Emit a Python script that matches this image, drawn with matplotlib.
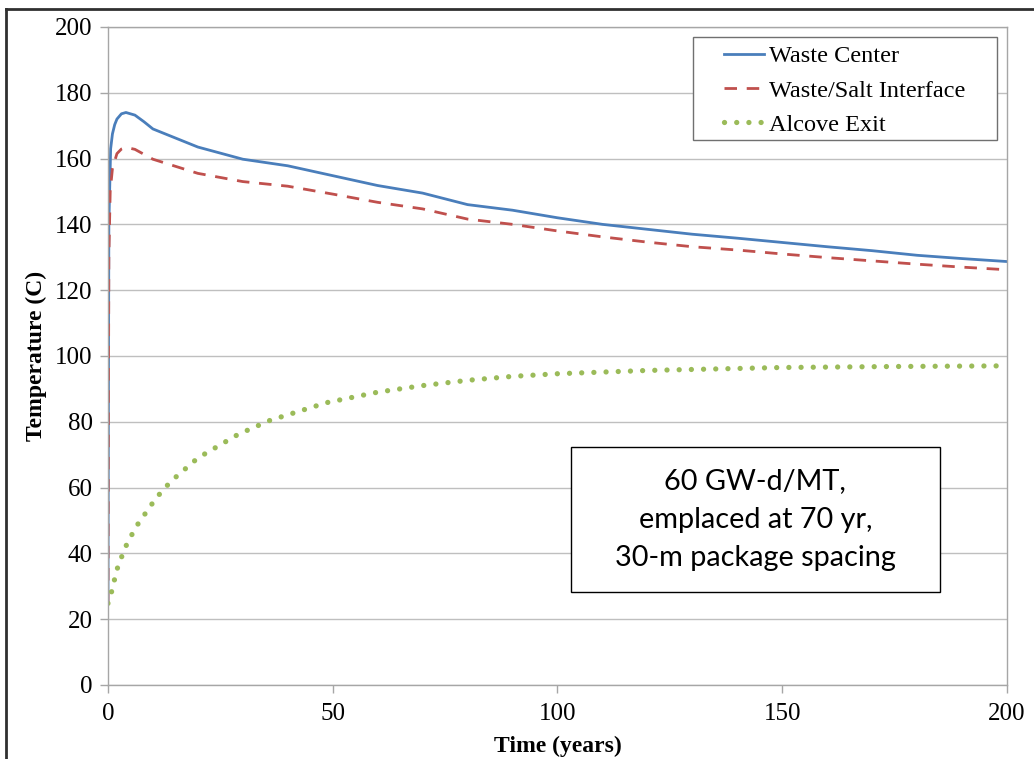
import numpy as np
import matplotlib.pyplot as plt
from matplotlib.lines import Line2D
from matplotlib.patches import Rectangle
from matplotlib.legend_handler import HandlerLine2D

# data
t_center = [0, 0.2, 0.6, 1, 1.5, 2, 3, 4, 6, 8, 10, 20, 30, 40, 50, 60, 70, 80, 90, 100,
            110, 120, 130, 140, 150, 160, 170, 180, 190, 200]
waste_center = [25, 140, 163, 167.5, 170.3, 172, 173.6, 174, 173.2, 171.2, 169, 163.5,
                159.8, 157.8, 154.8, 151.8, 149.5, 146, 144.3, 142, 140, 138.5, 137,
                135.8, 134.5, 133.2, 132, 130.6, 129.6, 128.7]

t_salt = [0, 0.2, 0.5, 1, 2, 3, 4, 6, 10, 20, 30, 40, 50, 60, 70, 80, 90, 100,
          110, 120, 130, 140, 150, 160, 170, 180, 190, 200]
waste_salt = [25, 130, 150, 157, 161.5, 162.9, 163.4, 162.8, 159.8, 155.5, 153, 151.6,
              149.2, 146.7, 144.7, 141.6, 140, 138, 136.2, 134.6, 133.2, 132.2, 131,
              129.9, 128.9, 127.9, 127, 126.2]

t_exit = [0, 0.8, 2, 3.8, 6.2, 10.7, 14, 20, 29, 36, 48.6, 60, 70, 80, 90, 100,
          120, 150, 175, 200]
alcove_exit = [24.8, 28.3, 35.1, 41.7, 48, 56.8, 61.9, 69, 76.2, 80.4, 85.8, 89, 91,
               92.6, 93.8, 94.6, 95.6, 96.5, 96.8, 97]

x_ticks = [0, 50, 100, 150, 200]
y_ticks = [0, 20, 40, 60, 80, 100, 120, 140, 160, 180, 200]

serif = 'Liberation Serif'
grid_c = '#bfbfbf'


# legend handle drawn only on the right part of the handle box (Excel-like indent)
class RightHandler(HandlerLine2D):
    def get_xdata(self, legend, xdescent, ydescent, width, height, fontsize):
        x0 = -xdescent
        xd = np.array([x0 + 0.44 * width, x0 + width])
        return xd, xd


fig = plt.figure(figsize=(10.34, 7.59), dpi=100)
ax = fig.add_axes([0.1044, 0.0975, 0.8695, 0.867])

ax.plot(t_center, waste_center, color='#4a7ebb', lw=2.0, label='Waste Center')
ax.plot(t_salt, waste_salt, color='#c0504d', lw=2.0, linestyle=(0, (4.5, 3.5)),
        label='Waste/Salt Interface')
ax.plot(t_exit, alcove_exit, color='#9bbb59', lw=3.8, linestyle=(0, (0.01, 2.3)),
        dash_capstyle='round', label='Alcove Exit')

ax.set_xlim(0, 200)
ax.set_ylim(0, 200)
ax.set_xticks(x_ticks)
ax.set_yticks(y_ticks)
ax.grid(axis='y', color=grid_c, lw=1)
ax.set_axisbelow(True)
for s in ax.spines.values():
    s.set_color('#a6a6a6')
    s.set_linewidth(1)
ax.tick_params(axis='both', colors='#a6a6a6', length=6, width=1, labelcolor='black',
               labelsize=18, pad=5)
ax.tick_params(axis='x', pad=7)
for lab in ax.get_xticklabels() + ax.get_yticklabels():
    lab.set_family(serif)

ax.set_xlabel('Time (years)', family=serif, fontsize=17, fontweight='bold', labelpad=8)
ax.set_ylabel('Temperature (C)', family=serif, fontsize=17, fontweight='bold', labelpad=6)

# legend frame drawn by hand, legend itself without frame
ax.add_patch(Rectangle((0.651, 0.828), 0.338, 0.157, transform=ax.transAxes,
                       facecolor='white', edgecolor='#707070', lw=1, zorder=4))
h = [Line2D([], [], color='#4a7ebb', lw=2.0),
     Line2D([], [], color='#c0504d', lw=2.0, linestyle=(0, (4.5, 3.5))),
     Line2D([], [], color='#9bbb59', lw=3.8, linestyle=(0, (0.01, 2.3)), dash_capstyle='round')]
leg = ax.legend(h, ['Waste Center', 'Waste/Salt Interface', 'Alcove Exit'],
                loc='upper left', bbox_to_anchor=(0.651, 0.972), prop={'family': serif, 'size': 17.5},
                frameon=False, handlelength=2.9, borderaxespad=0, borderpad=0,
                labelspacing=0.5, handletextpad=0.2,
                handler_map={Line2D: RightHandler()})
leg.set_zorder(5)

# annotation box
ax.add_patch(Rectangle((103, 28.2), 82, 44, facecolor='white', edgecolor='black', lw=1, zorder=5))
ax.text(144, 50.2, '60 GW-d/MT,\nemplaced at 70 yr,\n30-m package spacing', ha='center',
        va='center', family='Lato', fontsize=20.8, linespacing=1.6, zorder=6)

# outer frame lines of the original figure
fig.add_artist(Line2D([0.0058, 1], [0.988, 0.988], color='#303030', lw=2, transform=fig.transFigure))
fig.add_artist(Line2D([0.0058, 0.0058], [0, 0.988], color='#303030', lw=2, transform=fig.transFigure))

fig.savefig('out.png', dpi=100)
